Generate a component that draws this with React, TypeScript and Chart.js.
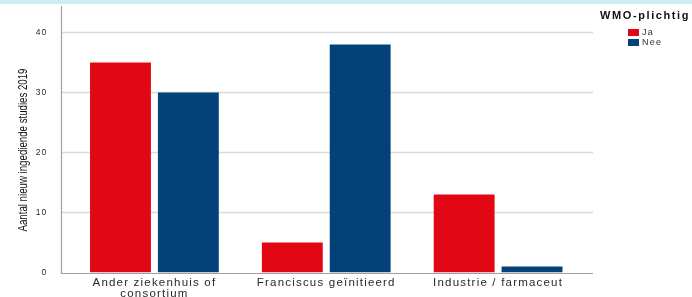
import React, { useEffect, useRef } from 'react';
import { Chart, registerables } from 'chart.js';

Chart.register(...registerables);

const categories: (string | string[])[] = [['Ander ziekenhuis of', 'consortium'], 'Franciscus geïnitieerd', 'Industrie / farmaceut'];
const seriesNames = ['Ja', 'Nee'];
const jaValues = [35, 5, 13];
const neeValues = [30, 38, 1];
const yTicks = [0, 10, 20, 30, 40];
const yTitle = 'Aantal nieuw ingediende studies 2019';
const legendTitle = 'WMO-plichtig';

const RED = '#e20714';
const BLUE = '#034278';
const FONT = '"Liberation Sans", Arial, sans-serif';

const FRAME_L = 61;
const FRAME_R = 593;
const FRAME_T = 6;

const framePlugin = {
  id: 'frame',
  beforeDraw(chart: any) {
    (chart.ctx as any).letterSpacing = '1.2px';
  },
  beforeDatasetsDraw(chart: any) {
    const { ctx, chartArea } = chart;
    (ctx as any).letterSpacing = '0px';
    const y = chart.scales.y;
    ctx.save();
    ctx.strokeStyle = '#dadada';
    ctx.lineWidth = 1.5;
    yTicks.forEach((v) => {
      if (v === 0) return;
      const py = Math.round(y.getPixelForValue(v)) + 0.5;
      ctx.beginPath();
      ctx.moveTo(FRAME_L, py);
      ctx.lineTo(FRAME_R, py);
      ctx.stroke();
    });
    ctx.strokeStyle = '#a0a0a0';
    ctx.lineWidth = 1.2;
    const by = Math.round(chartArea.bottom) + 0.5;
    ctx.beginPath();
    ctx.moveTo(FRAME_L + 0.5, FRAME_T);
    ctx.lineTo(FRAME_L + 0.5, by);
    ctx.lineTo(FRAME_R, by);
    ctx.stroke();
    ctx.restore();
  },
  afterDraw(chart: any) {
    const { ctx } = chart;
    ctx.save();
    (ctx as any).letterSpacing = '0px';
    ctx.translate(23.5, 150);
    ctx.rotate(-Math.PI / 2);
    ctx.font = '12px ' + FONT;
    const w = ctx.measureText(yTitle).width;
    ctx.scale(163 / w, 1);
    ctx.textAlign = 'center';
    ctx.textBaseline = 'middle';
    ctx.fillStyle = '#111';
    ctx.fillText(yTitle, 0, 0);
    ctx.restore();

    ctx.save();
    (ctx as any).letterSpacing = '1.6px';
    ctx.font = 'bold 11px ' + FONT;
    ctx.textAlign = 'left';
    ctx.textBaseline = 'middle';
    ctx.fillStyle = '#111';
    ctx.fillText(legendTitle, 600, 16);
    (ctx as any).letterSpacing = '1.3px';
    ctx.font = '9px ' + FONT;
    chart.data.datasets.forEach((ds: any, i: number) => {
      const yy = 29 + i * 10;
      ctx.fillStyle = ds.backgroundColor;
      ctx.fillRect(628, yy, 11, 7);
      ctx.fillStyle = '#333';
      ctx.fillText(ds.label, 642, yy + 3.5);
    });
    ctx.restore();
    (ctx as any).letterSpacing = '0px';
  },
};

export default function App() {
  const ref = useRef<HTMLCanvasElement>(null);
  useEffect(() => {
    if (!ref.current) return;
    const chart = new Chart(ref.current, {
      type: 'bar',
      data: {
        labels: categories,
        datasets: [
          { label: seriesNames[0], data: jaValues, backgroundColor: RED, categoryPercentage: 0.79, barPercentage: 0.897 },
          { label: seriesNames[1], data: neeValues, backgroundColor: BLUE, categoryPercentage: 0.79, barPercentage: 0.897 },
        ],
      },
      options: {
        responsive: false,
        animation: false,
        layout: { autoPadding: false, padding: { top: FRAME_T, right: 108, left: 0, bottom: 0 } },
        plugins: { legend: { display: false }, tooltip: { enabled: false } },
        scales: {
          x: {
            grid: { display: false, drawTicks: false },
            border: { display: false },
            ticks: {
              color: '#2a2a2a',
              font: { family: FONT, size: 11.5, lineHeight: 0.92 },
              padding: 5.3,
              maxRotation: 0,
              autoSkip: false,
            },
            afterFit(scale: any) {
              scale.height = 24.5;
            },
          },
          y: {
            min: 0,
            max: 44.4,
            grid: { display: false, drawTicks: true, tickLength: 21 },
            border: { display: false },
            ticks: {
              color: '#2a2a2a',
              font: { family: FONT, size: 8.5 },
              padding: 0,
            },
            afterBuildTicks(scale: any) {
              scale.ticks = yTicks.map((v) => ({ value: v }));
            },
            afterFit(scale: any) {
              scale.width = 68.5;
            },
          },
        },
      },
      plugins: [framePlugin],
    });
    return () => chart.destroy();
  }, []);
  return (
    <div style={{ position: 'absolute', left: 0, top: 0, width: 692, height: 297, background: '#fff' }}>
      <canvas ref={ref} width={692} height={297} style={{ display: 'block' }} />
      <div style={{ position: 'absolute', left: 0, top: 0, width: 692, height: 4, background: '#cdeeee' }} />
    </div>
  );
}
